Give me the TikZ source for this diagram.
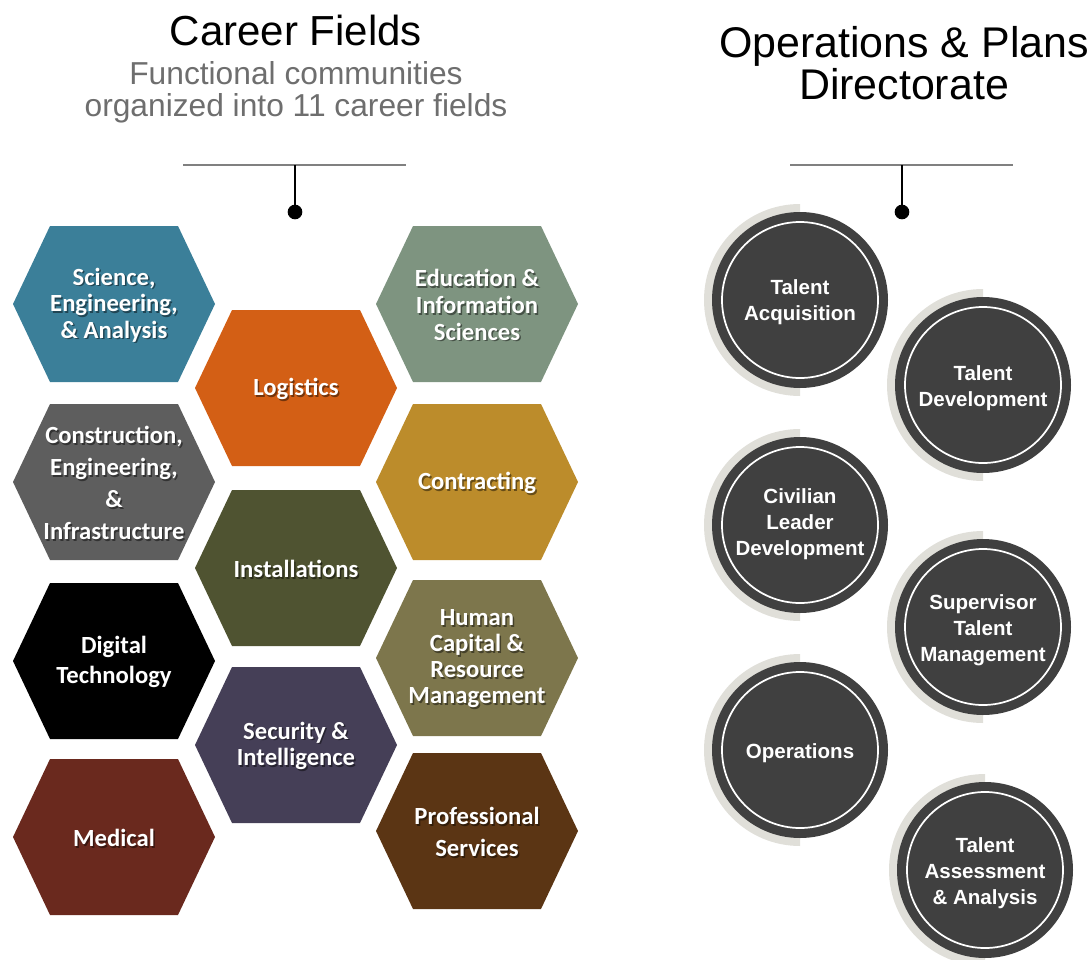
\documentclass[tikz,border=0pt]{standalone}
\usepackage{fontspec}
\setmainfont{Liberation Sans}
\newfontfamily\hexfont{Carlito}

\definecolor{scicol}{HTML}{3B7F99}
\definecolor{logcol}{HTML}{D35F15}
\definecolor{educol}{HTML}{7E9480}
\definecolor{concol}{HTML}{5E5E5E}
\definecolor{ctrcol}{HTML}{BC8C2B}
\definecolor{inscol}{HTML}{4F5331}
\definecolor{digcol}{HTML}{000000}
\definecolor{hcmcol}{HTML}{7D764C}
\definecolor{seccol}{HTML}{453F57}
\definecolor{medcol}{HTML}{6A291E}
\definecolor{procol}{HTML}{5B3514}
\definecolor{unitcol}{HTML}{404040}
\definecolor{halocol}{HTML}{E0DFD9}
\definecolor{subcol}{HTML}{6E6E6E}

\tikzset{
  hextext/.style={text=white, align=center, inner sep=0pt,
    font=\hexfont\bfseries\fontsize{18.5}{#1}\selectfont},
  hexshadow/.style={hextext=#1, text=black, text opacity=0.45},
  unit/.style={circle, fill=unitcol, minimum size=132pt, inner sep=0pt},
  unittext/.style={text=white, align=center, inner sep=0pt,
    font=\bfseries\fontsize{15.4}{19.5}\selectfont},
  title/.style={align=center, font=\fontsize{31.5}{32}\selectfont},
  subtitle/.style={align=center, text=subcol, font=\fontsize{23.8}{24}\selectfont},
  bar/.style={draw=gray, line width=1.1pt},
  stem/.style={draw=black, line width=2.2pt},
  dot/.style={circle, fill=black, minimum size=11pt, inner sep=0pt}
}

\begin{document}
\begin{tikzpicture}[x=0.75pt,y=-0.75pt]
\useasboundingbox (0,0) rectangle (1089,960);

% Titles
\node[title] (cftitle) at (296,30) {Career Fields};
\node[subtitle] (cfsub) at (296,92) {Functional communities\\organized into 11 career fields};
\node[title, font=\fontsize{32.2}{32}\selectfont] (optitle) at (904,63) {Operations \& Plans\\Directorate};

% Brackets
\coordinate (cfl) at (183,165);
\coordinate (cfr) at (406,165);
\coordinate (cfm) at (295,165);
\node[dot] (cfdot) at (295,212) {};
\draw[bar] (cfl) -- (cfr);
\draw[stem] (cfm) -- (cfdot.center);

\coordinate (opl) at (790,165);
\coordinate (opr) at (1013,165);
\coordinate (opm) at (902,165);
\node[dot] (opdot) at (902,212) {};
\draw[bar] (opl) -- (opr);
\draw[stem] (opm) -- (opdot.center);

% Career field hexagons
\foreach \x/\y/\c/\n/\t/\ls in {
  114/304/scicol/sci/{Science,\\Engineering,\\\& Analysis}/20,
  114/482/concol/con/{Construction,\\Engineering,\\\&\\Infrastructure}/24,
  114/661/digcol/dig/{Digital\\Technology}/23,
  114/837/medcol/med/{Medical}/20,
  296/388/logcol/log/{Logistics}/20,
  296/568/inscol/ins/{Installations}/20,
  296/745/seccol/sec/{Security \&\\Intelligence}/20,
  477/304/educol/edu/{Education \&\\Information\\Sciences}/20,
  477/482/ctrcol/ctr/{Contracting}/20,
  477/658/hcmcol/hcm/{Human\\Capital \&\\Resource\\Management}/19.5,
  477/831/procol/pro/{Professional\\Services}/24} {
  \fill[\c] (\x,\y) ++(-101,0) -- ++(37,-78) -- ++(128,0) -- ++(37,78)
    -- ++(-37,78) -- ++(-128,0) -- cycle;
  \node[hexshadow=\ls] at (\x+1.5,\y+2.5) {\t};
  \node[hextext=\ls] (\n) at (\x,\y+1) {\t};
}

% Directorate units
\foreach \x/\y/\ty/\n/\t in {
  800/300/302/ta/{Talent\\Acquisition},
  983/385/388/td/{Talent\\Development},
  800/525/524/cld/{Civilian\\Leader\\Development},
  983/627/630/stm/{Supervisor\\Talent\\Management},
  800/750/753/ops/{Operations},
  985/870/873/taa/{Talent\\Assessment\\\& Analysis}} {
  \fill[halocol] (\x,\y) ++(0,-96) arc[start angle=270, end angle=90, radius=96] -- cycle;
  \node[unit] (\n) at (\x,\y) {};
  \draw[white, line width=1.3pt] (\n.center) circle (78);
  \node[unittext] (\n-txt) at (\x,\ty) {\t};
}

\end{tikzpicture}
\end{document}
